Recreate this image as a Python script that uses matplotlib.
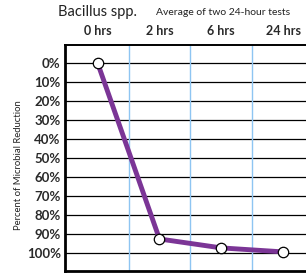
import numpy as np
import matplotlib.pyplot as plt

plt.rcParams['font.family'] = ['Lato', 'DejaVu Sans']

hours = ["0 hrs", "2 hrs", "6 hrs", "24 hrs"]
reduction = [0, 92.5, 97.2, 99.3]
y_ticks = list(range(0, 101, 10))
y_labels = [f"{v}%" for v in y_ticks]


def plot_reduction():
    fig = plt.figure(figsize=(3.06, 2.77), dpi=100)
    ax = fig.add_axes([0.212, 0.022, 0.788, 0.816])

    x = np.arange(len(hours))
    ax.set_xlim(-0.53, 3.37)
    ax.set_ylim(109.3, -9.6)

    for v in y_ticks:
        ax.axhline(v, color='black', lw=0.9, zorder=1)
    for xv in x[:-1] + 0.5:
        ax.axvline(xv, color='#8ec5f2', lw=1.0, zorder=1)

    ax.plot(x, reduction, color='#7b3596', lw=3.5, zorder=2,
            marker='o', markersize=7.5, markerfacecolor='white',
            markeredgecolor='black', markeredgewidth=0.9)

    ax.set_yticks(y_ticks)
    ax.set_yticklabels(y_labels, fontsize=9.5, fontweight='bold', color='#2a2a2a')
    ax.tick_params(axis='y', length=0, pad=3)

    ax.xaxis.tick_top()
    ax.set_xticks(x)
    ax.set_xticklabels(hours, fontsize=9, fontweight='bold', color='#2a2a2a')
    ax.tick_params(axis='x', length=0, pad=6)

    for side in ['left', 'bottom']:
        ax.spines[side].set_linewidth(2)
    ax.spines['top'].set_linewidth(1.4)
    ax.spines['right'].set_visible(False)

    fig.text(0.062, 0.404, 'Percent of Microbial Reduction', fontsize=6.8, rotation=90,
             ha='center', va='center', color='#222222')
    fig.text(0.317, 0.955, 'Bacillus spp.', fontsize=10.5, ha='center', va='center', color='#222222')
    fig.text(0.73, 0.955, 'Average of two 24-hour tests', fontsize=7.5, ha='center', va='center', color='#222222')

    plt.savefig('out.png', dpi=100)


if __name__ == "__main__":
    plot_reduction()
